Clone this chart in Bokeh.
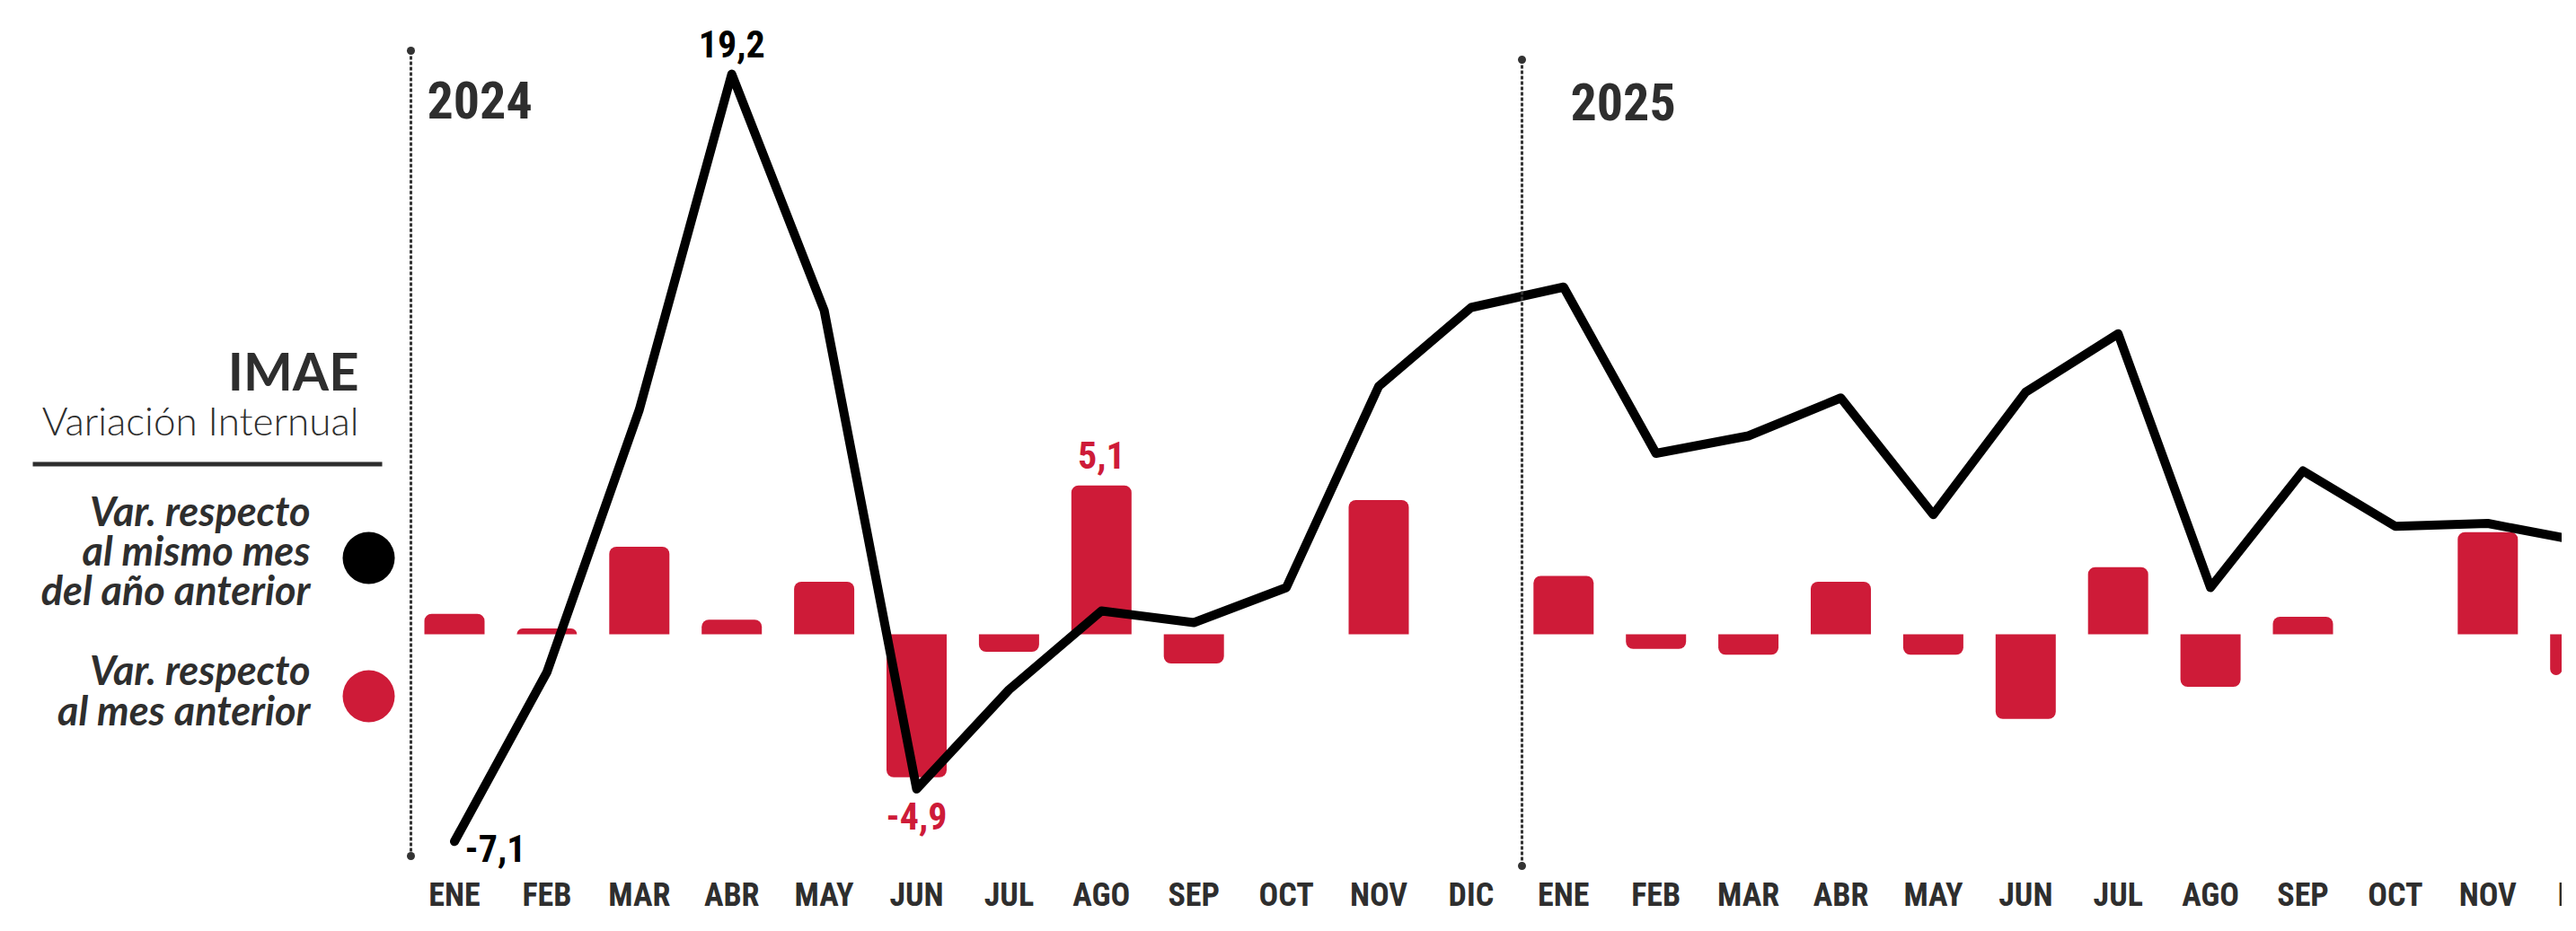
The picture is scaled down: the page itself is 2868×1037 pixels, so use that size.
from bokeh.plotting import figure
from bokeh.models import Range1d, Label, ColumnDataSource
from bokeh.core.properties import value
from bokeh.embed import file_html
from bokeh.resources import INLINE

# ---------------- data ----------------
months = ["ENE", "FEB", "MAR", "ABR", "MAY", "JUN", "JUL", "AGO", "SEP", "OCT", "NOV", "DIC",
          "ENE", "FEB", "MAR", "ABR", "MAY", "JUN", "JUL", "AGO", "SEP", "OCT", "NOV", "DIC"]
years = ["2024", "2025"]
# Var. respecto al mismo mes del año anterior (line)
interanual = [-7.1, -1.3, 7.7, 19.2, 11.1, -5.3, -1.9, 0.8, 0.4, 1.6, 8.5, 11.2,
              11.9, 6.2, 6.8, 8.1, 4.1, 8.3, 10.3, 1.6, 5.6, 3.7, 3.8, 3.2]
# Var. respecto al mes anterior (bars)
mensual = [0.7, 0.2, 3.0, 0.5, 1.8, -4.9, -0.6, 5.1, -1.0, 0.0, 4.6, 0.0,
           2.0, -0.5, -0.7, 1.8, -0.7, -2.9, 2.3, -1.8, 0.6, 0.0, 3.5, -1.4]

RED = "#CE1B38"
DARK = "#2e2e2e"
COND = "Roboto Condensed, DejaVu Sans Condensed, sans-serif"
SANS = "Lato, Open Sans, sans-serif"
LIGHT = "Lato Light, Lato, sans-serif"

W, H = 2852, 1021
# layout mapping (pixel -> data units)
X0, DX = 505.5, 102.9
Y0, KY = 706.0, 32.5
def xd(X):
    return (X - X0) / DX
def yd(Y):
    return (Y0 - Y) / KY
def base(B, fs):
    # alphabetic baseline correction for rendered text position
    return yd(B - 0.38 * fs)

p = figure(width=W, height=H, output_backend="svg", toolbar_location=None,
           x_range=Range1d(xd(0), xd(W)), y_range=Range1d(yd(H), yd(0)),
           x_axis_location=None, y_axis_location=None, min_border=0,
           outline_line_color=None, background_fill_color="white",
           border_fill_color="white")
p.grid.visible = False

idx = list(range(len(months)))

# ---------------- bars ----------------
pos = [i for i in idx if mensual[i] > 0]
neg = [i for i in idx if mensual[i] < 0]
BW = 0.651
p.vbar(x=pos, top=[mensual[i] for i in pos], bottom=0, width=BW,
       fill_color=RED, line_color=None, border_radius=(8, 8, 0, 0))
p.vbar(x=neg, top=0, bottom=[mensual[i] for i in neg], width=BW,
       fill_color=RED, line_color=None, border_radius=(0, 0, 8, 8))

# ---------------- line ----------------
p.line(x=idx, y=interanual, line_width=10, line_color="black",
       line_join="round", line_cap="round")

# ---------------- year separators ----------------
year_x = [xd(457), xd(1694)]
year_top = [yd(56), yd(66)]
year_bot = [yd(953), yd(964)]
p.segment(x0=year_x, y0=year_top, x1=year_x, y1=year_bot,
          line_color="#333333", line_width=3, line_dash="4 2")
p.scatter(x=year_x + year_x, y=year_top + year_bot, size=9,
          fill_color="#333333", line_color=None)
YFS = 58
for yx, ytxt, yb in zip([xd(475), xd(1748)], years, [133, 135]):
    p.add_layout(Label(x=yx, y=base(yb, YFS), text=ytxt, text_font=COND,
                       text_font_size=f"{YFS}px",
                       text_font_style="bold", text_color=DARK,
                       text_align="left", text_baseline="alphabetic"))

# ---------------- month labels ----------------
MFS = 36
msrc = ColumnDataSource(dict(x=idx, y=[base(1010, MFS)] * len(idx), t=months))
p.text(x="x", y="y", text="t", source=msrc, text_font=value(COND),
       text_font_size=f"{MFS}px", text_font_style="bold", text_color=DARK,
       text_align="center", text_baseline="alphabetic")

# ---------------- value labels ----------------
def fmt(v):
    return f"{v:.1f}".replace(".", ",")

VFS = 42
i_max = interanual.index(max(interanual))
i_min = interanual.index(min(interanual[:3]))
b_max = mensual.index(max(mensual))
b_min = mensual.index(min(mensual))
sh = 0.38 * VFS / KY
vl = ColumnDataSource(dict(
    x=[i_max, i_min + 11.5 / DX],
    y=[interanual[i_max] + 18 / KY + sh, interanual[i_min] - 24 / KY + sh],
    t=[fmt(interanual[i_max]), fmt(interanual[i_min])],
    a=["center", "left"]))
p.text(x="x", y="y", text="t", text_align="a", source=vl, text_font=value(COND),
       text_font_size=f"{VFS}px", text_font_style="bold", text_color="black",
       text_baseline="alphabetic")
bl = ColumnDataSource(dict(
    x=[b_max, b_min],
    y=[mensual[b_max] + 18 / KY + sh, mensual[b_min] - 59 / KY + sh],
    t=[fmt(mensual[b_max]), fmt(mensual[b_min])]))
p.text(x="x", y="y", text="t", source=bl, text_font=value(COND),
       text_font_size=f"{VFS}px", text_font_style="bold", text_color=RED,
       text_align="center", text_baseline="alphabetic")

# ---------------- title & legend ----------------
p.add_layout(Label(x=xd(399), y=base(434.5, 58), text="IMAE", text_font=SANS,
                   text_font_size="58px", text_font_style="bold", text_color=DARK,
                   text_align="right", text_baseline="alphabetic"))
p.add_layout(Label(x=xd(399), y=base(484, 44), text="Variación Internual", text_font=LIGHT,
                   text_font_size="44px", text_font_style="normal", text_color=DARK,
                   text_align="right", text_baseline="alphabetic"))
p.segment(x0=[xd(36)], y0=[yd(516.5)], x1=[xd(425)], y1=[yd(516.5)],
          line_color=DARK, line_width=5)

LFS = 45
legend_lines = [("Var. respecto", 586), ("al mismo mes", 630), ("del año anterior", 674),
                ("Var. respecto", 763), ("al mes anterior", 808)]
for txt, yb in legend_lines:
    p.add_layout(Label(x=xd(345), y=base(yb, LFS), text=txt, text_font=SANS,
                       text_font_size=f"{LFS}px", text_font_style="bold italic",
                       text_color=DARK, text_align="right", text_baseline="alphabetic"))
p.scatter(x=[xd(410), xd(410)], y=[yd(621), yd(775)], size=58,
          fill_color=["black", RED], line_color=None)

open("out.html", "w").write(file_html(p, INLINE))
